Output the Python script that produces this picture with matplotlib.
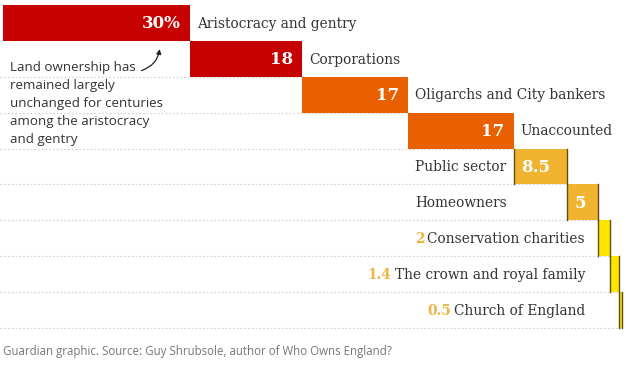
import numpy as np
import matplotlib.pyplot as plt

# dados: quem é dono da terra na Inglaterra (%)
grupos = ['Aristocracy and gentry', 'Corporations', 'Oligarchs and City bankers',
          'Unaccounted', 'Public sector', 'Homeowners', 'Conservation charities',
          'The crown and royal family', 'Church of England']
valores = [30, 18, 17, 17, 8.5, 5, 2, 1.4, 0.5]
rotulos = ['30%', '18', '17', '17', '8.5', '5', '2', '1.4', '0.5']
cores = ['#c70000', '#c70000', '#e86000', '#e86000', '#f0b430', '#f0b430',
         '#ffe500', '#ffe500', '#ffe500']

nota = ('Land ownership has\nremained largely\nunchanged for centuries\n'
        'among the aristocracy\nand gentry')
fonte = 'Guardian graphic. Source: Guy Shrubsole, author of Who Owns England?'

W, H = 641, 365
fig = plt.figure(figsize=(W / 100, H / 100), dpi=100)
ax = fig.add_axes([0, 0, 1, 1])
ax.set_xlim(-0.48, 102.4)
ax.set_ylim(10.03, -0.139)
ax.axis('off')

inicio = np.concatenate([[0], np.cumsum(valores)[:-1]])
fim = np.cumsum(valores)
linhas = np.arange(len(valores))

# linhas pontilhadas entre as faixas
for i in linhas[1:]:
    ax.plot([-0.48, fim[i]], [i + 1, i + 1], color='#d6d6d6', lw=0.9,
            ls=(0, (1.5, 1.5)), zorder=1)

ax.barh(linhas, valores, left=inicio, height=1.0, align='edge', color=cores, zorder=2)

# bordas escuras das barras amarelas
for i in linhas[4:]:
    ax.plot([inicio[i], inicio[i]], [i, i + 1], color='#5e4e10', lw=1.0, zorder=3)
    ax.plot([fim[i], fim[i]], [i, i + 1], color='#5e4e10', lw=1.0, zorder=3)

serif = 'DejaVu Serif'
cor_txt = '#333333'
fs = 9.9
fs_num = 12

# rotulos das quatro primeiras barras
for i in linhas[:4]:
    ax.text(fim[i] - 1.5, i + 0.52, rotulos[i], color='white', fontsize=fs_num,
            fontweight='bold', family=serif, ha='right', va='center', zorder=4)
    ax.text(fim[i] + 1.1, i + 0.52, grupos[i], color=cor_txt, fontsize=fs,
            family=serif, ha='left', va='center', zorder=4)

# public sector e homeowners
for i in linhas[4:6]:
    ax.text(inicio[i] + 1.2, i + 0.52, rotulos[i], color='white', fontsize=fs_num,
            fontweight='bold', family=serif, ha='left', va='center', zorder=4)
    ax.text(inicio[3] + 1.1, i + 0.52, grupos[i], color=cor_txt, fontsize=fs,
            family=serif, ha='left', va='center', zorder=4)

# as tres menores
fig.canvas.draw()
for i in linhas[6:]:
    t = ax.text(93.4, i + 0.52, grupos[i], color=cor_txt, fontsize=fs,
                family=serif, ha='right', va='center', zorder=4)
    bb = t.get_window_extent(renderer=fig.canvas.get_renderer())
    x0 = ax.transData.inverted().transform((bb.x0 - 3, 0))[0]
    ax.text(x0, i + 0.52, rotulos[i], color='#ecb540', fontsize=fs,
            fontweight='bold', family=serif, ha='right', va='center', zorder=4)

# anotação
ax.text(1.1, 1.55, nota, color=cor_txt, fontsize=9.6, family='Open Sans',
        ha='left', va='top', linespacing=1.5, zorder=4)
ax.annotate('', xy=(25.2, 1.15), xytext=(21.8, 1.85),
            arrowprops=dict(arrowstyle='-|>', color='#222222', lw=0.9,
                            mutation_scale=7, connectionstyle='arc3,rad=0.35'))

fig.text(3 / W, 1 - 352 / H, fonte, color='#767676', fontsize=8.3,
         family='Open Sans', ha='left', va='center')

fig.savefig('out.png', dpi=100)
